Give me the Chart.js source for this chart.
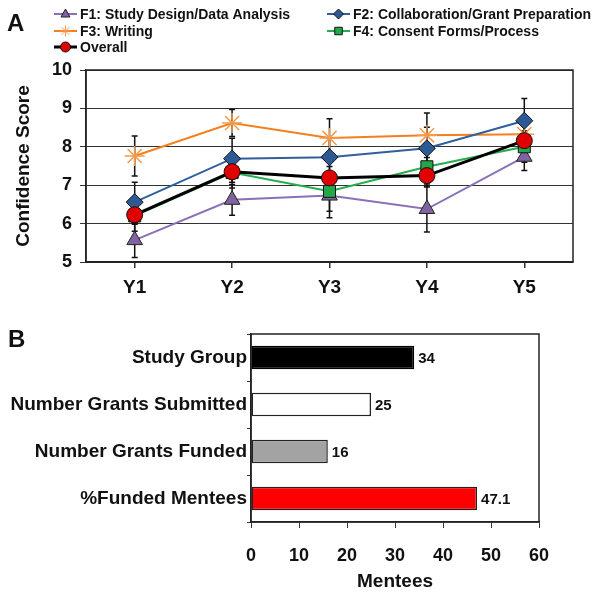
<!DOCTYPE html>
<html><head><meta charset="utf-8">
<script src="https://cdn.jsdelivr.net/npm/chart.js@4.4.1/dist/chart.umd.min.js"></script>
<style>
body{margin:0;background:#fff;width:604px;height:596px;overflow:hidden;position:relative;font-family:"Liberation Sans",Arial,sans-serif;}
#ca{position:absolute;left:0;top:0;}
#cb{position:absolute;left:0;top:305px;}
.pl{position:absolute;font-weight:bold;font-size:24px;line-height:24px;color:#111;}
</style></head><body>
<canvas id="ca" width="604" height="305"></canvas>
<canvas id="cb" width="604" height="291"></canvas>
<div class="pl" style="left:7px;top:11px">A</div>
<div class="pl" style="left:8px;top:327px">B</div>
<script>
// ---- Panel A data ----
const years = ['Y1','Y2','Y3','Y4','Y5'];
const f1 = [5.57, 6.62, 6.73, 6.38, 7.74];
const f2 = [6.56, 7.69, 7.73, 7.96, 8.68];
const f3 = [7.76, 8.62, 8.23, 8.30, 8.33];
const f4 = [6.20, 7.33, 6.84, 7.48, 8.00];
const overall = [6.23, 7.35, 7.19, 7.25, 8.16];
const f1Err = [0.45, 0.40, 0.58, 0.60, 0.36];
const f2Err = [0.52, 0.53, 0.50, 0.55, 0.58];
const f3Err = [0.52, 0.35, 0.50, 0.58, 0.30];
const f4Err = [0.40, 0.40, 0.52, 0.45, 0.40];
const overallErr = [0.25, 0.27, 0.30, 0.30, 0.25];
const seriesNames = ['F1: Study Design/Data Analysis','F2: Collaboration/Grant Preparation','F3: Writing','F4: Consent Forms/Process','Overall'];
const scoreTicks = [5,6,7,8,9,10];

// ---- Panel B data ----
const groups = ['Study Group','Number Grants Submitted','Number Grants Funded','%Funded Mentees'];
const mentees = [34, 25, 16, 47.1];
const menteeLabels = ['34','25','16','47.1'];
const menteeTicks = [0,10,20,30,40,50,60];

const FONT = '"Liberation Sans", Arial, sans-serif';
const NARROW = '"Liberation Sans Narrow", "Arial Narrow", "Liberation Sans", Arial, sans-serif';

const boxPlugin = {
  id:'box',
  beforeDatasetsDraw(chart){
    const a = chart.chartArea, ctx = chart.ctx;
    ctx.save(); ctx.strokeStyle='#222'; ctx.lineWidth=1.5;
    ctx.strokeRect(a.left, a.top, a.right-a.left, a.bottom-a.top);
    ctx.restore();
  }
};

const errPlugin = {
  id:'err',
  beforeDatasetsDraw(chart){
    const ctx=chart.ctx, ys=chart.scales.y, xs=chart.scales.x;
    ctx.save(); ctx.strokeStyle='#111'; ctx.lineWidth=1.5;
    chart.data.datasets.forEach(ds=>{
      if(!ds.err) return;
      ds.data.forEach((v,i)=>{
        const px=xs.getPixelForValue(i);
        const t=ys.getPixelForValue(v+ds.err[i]), b=ys.getPixelForValue(v-ds.err[i]);
        ctx.beginPath();
        ctx.moveTo(px,t); ctx.lineTo(px,b);
        ctx.moveTo(px-3,t); ctx.lineTo(px+3,t);
        ctx.moveTo(px-3,b); ctx.lineTo(px+3,b);
        ctx.stroke();
      });
    });
    ctx.restore();
  }
};

function marker(ctx, style, x, y, r, fill, stroke, bw){
  ctx.save();
  ctx.fillStyle=fill; ctx.strokeStyle=stroke; ctx.lineWidth=bw;
  ctx.beginPath();
  if(style==='triangle'){
    ctx.moveTo(x, y-r); ctx.lineTo(x+r*0.9, y+r*0.6); ctx.lineTo(x-r*0.9, y+r*0.6); ctx.closePath();
    ctx.fill(); ctx.stroke();
  } else if(style==='rectRot'){
    ctx.moveTo(x, y-r); ctx.lineTo(x+r, y); ctx.lineTo(x, y+r); ctx.lineTo(x-r, y); ctx.closePath();
    ctx.fill(); ctx.stroke();
  } else if(style==='rect'){
    ctx.rect(x-r*0.75, y-r*0.75, r*1.5, r*1.5); ctx.fill(); ctx.stroke();
  } else if(style==='circle'){
    ctx.arc(x,y,r,0,Math.PI*2); ctx.fill(); ctx.stroke();
  } else if(style==='star'){
    for(let k=0;k<4;k++){
      const ang=k*Math.PI/4;
      ctx.moveTo(x-Math.sin(ang)*r, y-Math.cos(ang)*r);
      ctx.lineTo(x+Math.sin(ang)*r, y+Math.cos(ang)*r);
    }
    ctx.stroke();
  }
  ctx.restore();
}

const legendPos = [[54,14],[327,14],[54,31],[327,31],[54,47]];
const legendPlugin = {
  id:'customLegend',
  afterDraw(chart){
    const ctx=chart.ctx;
    chart.data.datasets.forEach((ds,i)=>{
      const [lx,ly]=legendPos[i];
      ctx.save();
      ctx.strokeStyle=ds.borderColor; ctx.lineWidth=ds.borderWidth;
      ctx.beginPath(); ctx.moveTo(lx,ly); ctx.lineTo(lx+23,ly); ctx.stroke();
      ctx.restore();
      marker(ctx, ds.pointStyle, lx+11.5, ly, ds.pointStyle==='star'?5.5:5, ds.pointBackgroundColor, ds.pointBorderColor, 1);
      ctx.save();
      ctx.fillStyle='#111'; ctx.font='bold 14px '+FONT; ctx.textBaseline='middle';
      ctx.fillText(seriesNames[i], lx+26, ly+1);
      ctx.restore();
    });
  }
};

new Chart(document.getElementById('ca'), {
  type:'line',
  data:{
    labels: years,
    datasets:[
      {label:seriesNames[0], data:f1, err:f1Err, borderColor:'#8a70b8', borderWidth:2, pointStyle:'triangle', pointRadius:9, pointBackgroundColor:'#8064a2', pointBorderColor:'#222', pointBorderWidth:1, order:3},
      {label:seriesNames[1], data:f2, err:f2Err, borderColor:'#2f5f9e', borderWidth:2, pointStyle:'rectRot', pointRadius:8.5, pointBackgroundColor:'#2d5a94', pointBorderColor:'#111', pointBorderWidth:1, order:2},
      {label:seriesNames[2], data:f3, err:f3Err, borderColor:'#f47f1f', borderWidth:2, pointStyle:'star', pointRadius:10, pointBackgroundColor:'#f47f1f', pointBorderColor:'#f59a4a', pointBorderWidth:1.5, order:4},
      {label:seriesNames[3], data:f4, err:f4Err, borderColor:'#25ad4e', borderWidth:2, pointStyle:'rect', pointRadius:8.5, pointBackgroundColor:'#22a84b', pointBorderColor:'#111', pointBorderWidth:1, order:1},
      {label:seriesNames[4], data:overall, err:overallErr, borderColor:'#000', borderWidth:3, pointStyle:'circle', pointRadius:8, pointBackgroundColor:'#e00000', pointBorderColor:'#111', pointBorderWidth:1, order:0}
    ]
  },
  options:{
    responsive:false, animation:false, devicePixelRatio:1,
    layout:{padding:{left:0,right:31,top:70,bottom:0}},
    plugins:{legend:{display:false}, tooltip:{enabled:false}},
    elements:{line:{tension:0}},
    scales:{
      x:{
        offset:true,
        grid:{display:true, drawOnChartArea:false, offset:false, tickLength:6, color:'#333', lineWidth:1.5},
        border:{display:true, color:'#222', width:1.5},
        ticks:{color:'#111', font:{family:FONT, size:19, weight:'bold'}, padding:8},
        afterFit(s){ s.height = 43; }
      },
      y:{
        min:5, max:10,
        afterBuildTicks(s){ s.ticks = scoreTicks.map(v=>({value:v})); },
        grid:{color:'#333', lineWidth:1, tickLength:6},
        border:{display:true, color:'#222', width:1.5},
        ticks:{color:'#111', font:{family:FONT, size:18, weight:'bold'}, padding:8},
        title:{display:true, text:'Confidence Score', color:'#111', font:{family:FONT, size:19, weight:'bold'}, padding:{top:12,bottom:0}},
        afterFit(s){ s.width = 86; }
      }
    }
  },
  plugins:[boxPlugin, errPlugin, legendPlugin]
});

const valuePlugin = {
  id:'values',
  afterDatasetsDraw(chart){
    const ctx=chart.ctx, meta=chart.getDatasetMeta(0);
    ctx.save(); ctx.fillStyle='#111'; ctx.font='bold 15px '+NARROW; ctx.textBaseline='middle';
    meta.data.forEach((el,i)=>{ ctx.fillText(menteeLabels[i], el.x+4, el.y+1); });
    ctx.restore();
  }
};

new Chart(document.getElementById('cb'), {
  type:'bar',
  data:{
    labels: groups,
    datasets:[{
      data: mentees,
      backgroundColor:['#000000','#ffffff','#a3a3a3','#ff0000'],
      borderColor:['#000','#222','#222','#222'],
      borderWidth:1.5,
      borderSkipped:false,
      categoryPercentage:1, barPercentage:0.5
    }]
  },
  options:{
    indexAxis:'y',
    responsive:false, animation:false, devicePixelRatio:1,
    layout:{padding:{left:0,right:65,top:29,bottom:0}},
    plugins:{legend:{display:false}, tooltip:{enabled:false}},
    scales:{
      x:{
        min:0, max:60,
        afterBuildTicks(s){ s.ticks = menteeTicks.map(v=>({value:v})); },
        grid:{display:true, drawOnChartArea:false, tickLength:6, color:'#333', lineWidth:1},
        border:{display:true, color:'#222', width:1.5},
        ticks:{color:'#111', font:{family:NARROW, size:18, weight:'bold'}, padding:17},
        title:{display:true, text:'Mentees', color:'#111', font:{family:FONT, size:19, weight:'bold'}, padding:{top:0,bottom:3}},
        afterFit(s){ s.height = 74; }
      },
      y:{
        grid:{display:true, drawOnChartArea:false, tickLength:4, color:'#333'},
        border:{display:true, color:'#222', width:1.5},
        ticks:{color:'#111', font:{family:FONT, size:19, weight:'bold'}, padding:0},
        afterFit(s){ s.width = 251; }
      }
    }
  },
  plugins:[boxPlugin, valuePlugin]
});
</script>
</body></html>
